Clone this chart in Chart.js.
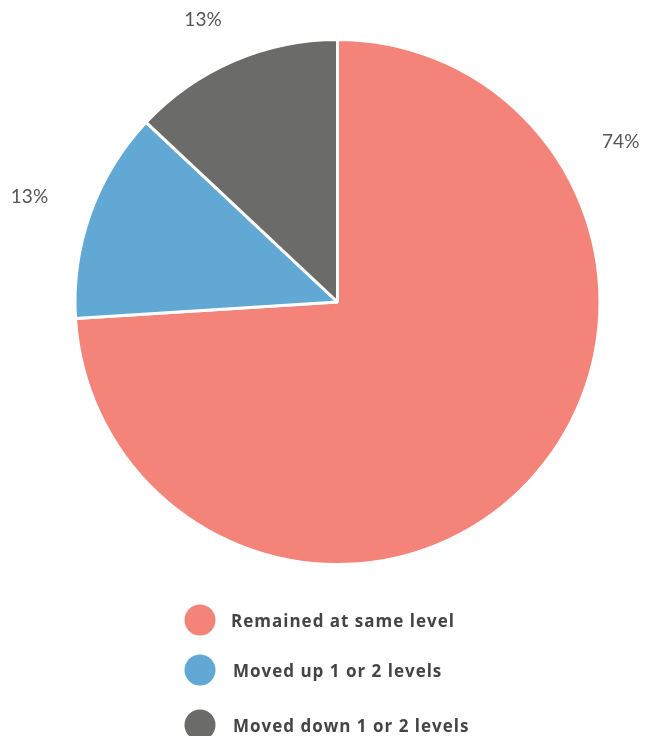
<!DOCTYPE html>
<html>
<head>
<meta charset="utf-8">
<script src="https://cdn.jsdelivr.net/npm/chart.js@4"></script>
<style>
  html, body { margin: 0; padding: 0; background: #fff; }
  #wrap { position: relative; width: 652px; height: 736px; }
</style>
</head>
<body>
<div id="wrap"><canvas id="chartNiveis" width="652" height="736"></canvas></div>
<script>
// categories and shares (%)
const categorias = ['Remained at same level', 'Moved up 1 or 2 levels', 'Moved down 1 or 2 levels'];
const valores = [74, 13, 13];
const cores = ['#F4847A', '#61A8D4', '#6B6B69'];

// percent labels outside each slice
const rotulosFora = {
  id: 'rotulosFora',
  afterDatasetsDraw(chart, args, opts) {
    const { ctx } = chart;
    const arcs = chart.getDatasetMeta(0).data;
    ctx.save();
    ctx.font = '19px Lato, "Open Sans", sans-serif';
    ctx.fillStyle = '#555';
    ctx.textAlign = 'center';
    ctx.textBaseline = 'middle';
    arcs.forEach((arc, i) => {
      const a = arc.startAngle + (arc.endAngle - arc.startAngle) * opts.frac[i];
      const r = arc.outerRadius * opts.dist[i];
      ctx.fillText(valores[i] + '%', arc.x + Math.cos(a) * r, arc.y + Math.sin(a) * r);
    });
    ctx.restore();
  }
};

// legend list under the pie
const legendaLista = {
  id: 'legendaLista',
  afterDraw(chart, args, opts) {
    const { ctx } = chart;
    ctx.save();
    ctx.font = 'bold 17px "Open Sans", Lato, sans-serif';
    ctx.letterSpacing = '1px';
    ctx.textBaseline = 'middle';
    categorias.forEach((nome, i) => {
      const y = opts.linhas[i];
      ctx.fillStyle = cores[i];
      ctx.beginPath();
      ctx.arc(opts.x, y, 15.5, 0, Math.PI * 2);
      ctx.fill();
      ctx.fillStyle = '#444';
      ctx.fillText(nome, opts.xTexto[i], y + 2);
    });
    ctx.restore();
  }
};

new Chart(document.getElementById('chartNiveis'), {
  type: 'pie',
  data: {
    labels: categorias,
    datasets: [{
      data: valores,
      backgroundColor: cores,
      borderColor: '#fff',
      borderWidth: 3
    }]
  },
  options: {
    responsive: false,
    animation: false,
    layout: { padding: { left: 73.5, right: 50.5, top: 38, bottom: 170 } },
    plugins: {
      legend: { display: false },
      tooltip: { enabled: false },
      rotulosFora: { frac: [0.227, 0.48, 0.455], dist: [1.24, 1.24, 1.19] },
      legendaLista: { x: 200, xTexto: [231, 233, 233], linhas: [620, 670, 725] }
    }
  },
  plugins: [rotulosFora, legendaLista]
});
</script>
</body>
</html>
